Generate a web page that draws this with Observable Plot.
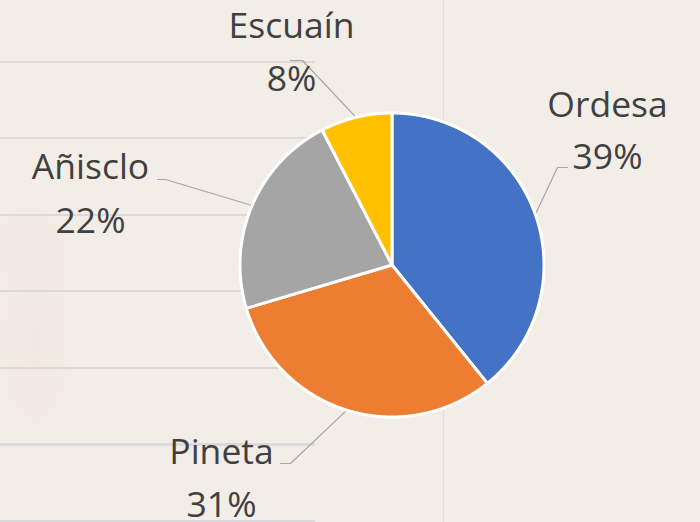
<!DOCTYPE html>
<html>
<head>
<meta charset="utf-8">
<script src="https://cdn.jsdelivr.net/npm/d3@7"></script>
<script src="https://cdn.jsdelivr.net/npm/@observablehq/plot@0.6"></script>
<style>
  html, body { margin: 0; padding: 0; }
  body {
    width: 700px; height: 522px; overflow: hidden; position: relative;
    background:
      radial-gradient(ellipse 40px 100px at 35px 340px, rgba(238, 220, 212, 0.35), rgba(238, 220, 212, 0) 100%),
      radial-gradient(ellipse 50px 60px at 30px 250px, rgba(240, 226, 216, 0.3), rgba(240, 226, 216, 0) 100%),
      #f2ede6;
  }
  #hlines {
    position: absolute; left: 0; top: 0; width: 315px; height: 522px;
    background: repeating-linear-gradient(to bottom,
      rgba(0,0,0,0) 0px, rgba(0,0,0,0) 61px,
      #dadadd 61px, #dadadd 63px,
      rgba(0,0,0,0) 63px, rgba(0,0,0,0) 76.5px);
  }
  #vline { position: absolute; left: 443px; top: 0; width: 1px; height: 522px; background: #e4ded6; }
  #chart { position: absolute; left: 0; top: 0; }
</style>
</head>
<body>
<div id="hlines"></div>
<div id="vline"></div>
<div id="chart"></div>
<script>
// ---- data ----
const categories = ["Ordesa", "Pineta", "Añisclo", "Escuaín"];
const shares = [39.2, 31.2, 22.0, 7.6];
const colors = ["#4472C4", "#ED7D31", "#A5A5A5", "#FFC000"];

// ---- layout (pixels) ----
const W = 700, H = 522;
const CX = 391.5, CY = 264.5, R = 152;
// label positions: centre x, baseline of name line, baseline of percent line
const labelLayout = {
  "Ordesa":  {x: 607, y1: 116, y2: 168, elbow: [557, 167], end: [567, 167]},
  "Pineta":  {x: 221, y1: 463, y2: 516, elbow: [290, 463], end: [280, 463]},
  "Añisclo": {x: 90,  y1: 178, y2: 232, elbow: [165, 179], end: [157, 179]},
  "Escuaín": {x: 291, y1: 37,  y2: 90,  elbow: [302, 60],  end: [290, 60]}
};
const toX = px => px - CX;
const toY = py => CY - py;

const arcs = d3.pie().sort(null).value(d => d.value)(
  categories.map((name, i) => ({name, value: shares[i]}))
);

// slice polygons
const slicePts = [];
arcs.forEach(a => {
  const name = a.data.name;
  slicePts.push({name, x: 0, y: 0});
  const n = Math.max(2, Math.ceil((a.endAngle - a.startAngle) / (Math.PI / 360)));
  for (let k = 0; k <= n; k++) {
    const t = a.startAngle + (a.endAngle - a.startAngle) * k / n;
    slicePts.push({name, x: R * Math.sin(t), y: R * Math.cos(t)});
  }
  slicePts.push({name, x: 0, y: 0});
});

// leader lines
const leaderPts = [];
arcs.forEach(a => {
  const name = a.data.name, L = labelLayout[name];
  const m = (a.startAngle + a.endAngle) / 2;
  leaderPts.push({name, x: R * Math.sin(m), y: R * Math.cos(m)});
  leaderPts.push({name, x: toX(L.elbow[0]), y: toY(L.elbow[1])});
  leaderPts.push({name, x: toX(L.end[0]), y: toY(L.end[1])});
});

// labels
const labels = [];
arcs.forEach(a => {
  const name = a.data.name, L = labelLayout[name];
  labels.push({x: toX(L.x), y: toY(L.y1), text: name});
  labels.push({x: toX(L.x), y: toY(L.y2), text: Math.round(a.data.value) + "%"});
});

const chart = Plot.plot({
  width: W, height: H,
  margin: 0,
  style: {background: "transparent", overflow: "visible"},
  x: {domain: [toX(0), toX(W)], axis: null},
  y: {domain: [toY(H), toY(0)], axis: null},
  color: {domain: categories, range: colors},
  marks: [
    Plot.line(leaderPts, {x: "x", y: "y", z: "name", stroke: "#a6a6a6", strokeWidth: 1.2, curve: "linear"}),
    Plot.line(slicePts, {x: "x", y: "y", z: "name", fill: "name", stroke: "white", strokeWidth: 3, strokeLinejoin: "round", curve: "linear"}),
    Plot.text(labels, {x: "x", y: "y", text: "text", textAnchor: "middle", lineAnchor: "bottom",
      fontSize: 35.5, fontFamily: "Open Sans", fill: "#404040"})
  ]
});
document.getElementById("chart").appendChild(chart);
</script>
</body>
</html>
